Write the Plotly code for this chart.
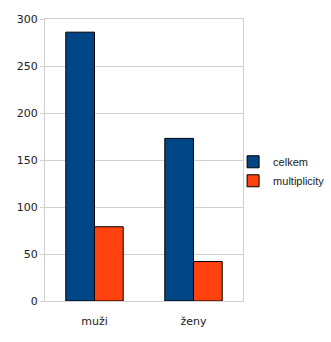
import plotly.graph_objects as go

categories = ["muži", "ženy"]
celkem = [286, 173]
multiplicity = [79, 42]

fig = go.Figure()
fig.add_trace(go.Bar(name="celkem", x=categories, y=celkem,
                     marker=dict(color="#004586", line=dict(color="#000000", width=1))))
fig.add_trace(go.Bar(name="multiplicity", x=categories, y=multiplicity,
                     marker=dict(color="#ff420e", line=dict(color="#000000", width=1))))

fig.update_layout(
    width=331, height=342,
    margin=dict(l=45, r=88, t=19, b=41, autoexpand=False),
    paper_bgcolor="white", plot_bgcolor="white",
    barmode="group", bargap=0.42, bargroupgap=0,
    font=dict(family="DejaVu Sans", size=11, color="#222222"),
    showlegend=True,
    legend=dict(x=0.95, y=0.46, xanchor="left", yanchor="middle",
                font=dict(size=11, family="Liberation Sans"), itemwidth=30,
                tracegroupgap=2, bgcolor="rgba(0,0,0,0)"),
)
fig.update_yaxes(range=[0, 300], dtick=50, gridcolor="#d0d0d0", gridwidth=1,
                 showline=True, linecolor="#d0d0d0", mirror=True,
                 ticks="outside", ticklen=4, tickcolor="#d0d0d0", zeroline=False)
fig.update_xaxes(showline=True, linecolor="#d0d0d0", mirror=True, ticks="",
                 ticklabelstandoff=10)
fig.write_html("out.html")
